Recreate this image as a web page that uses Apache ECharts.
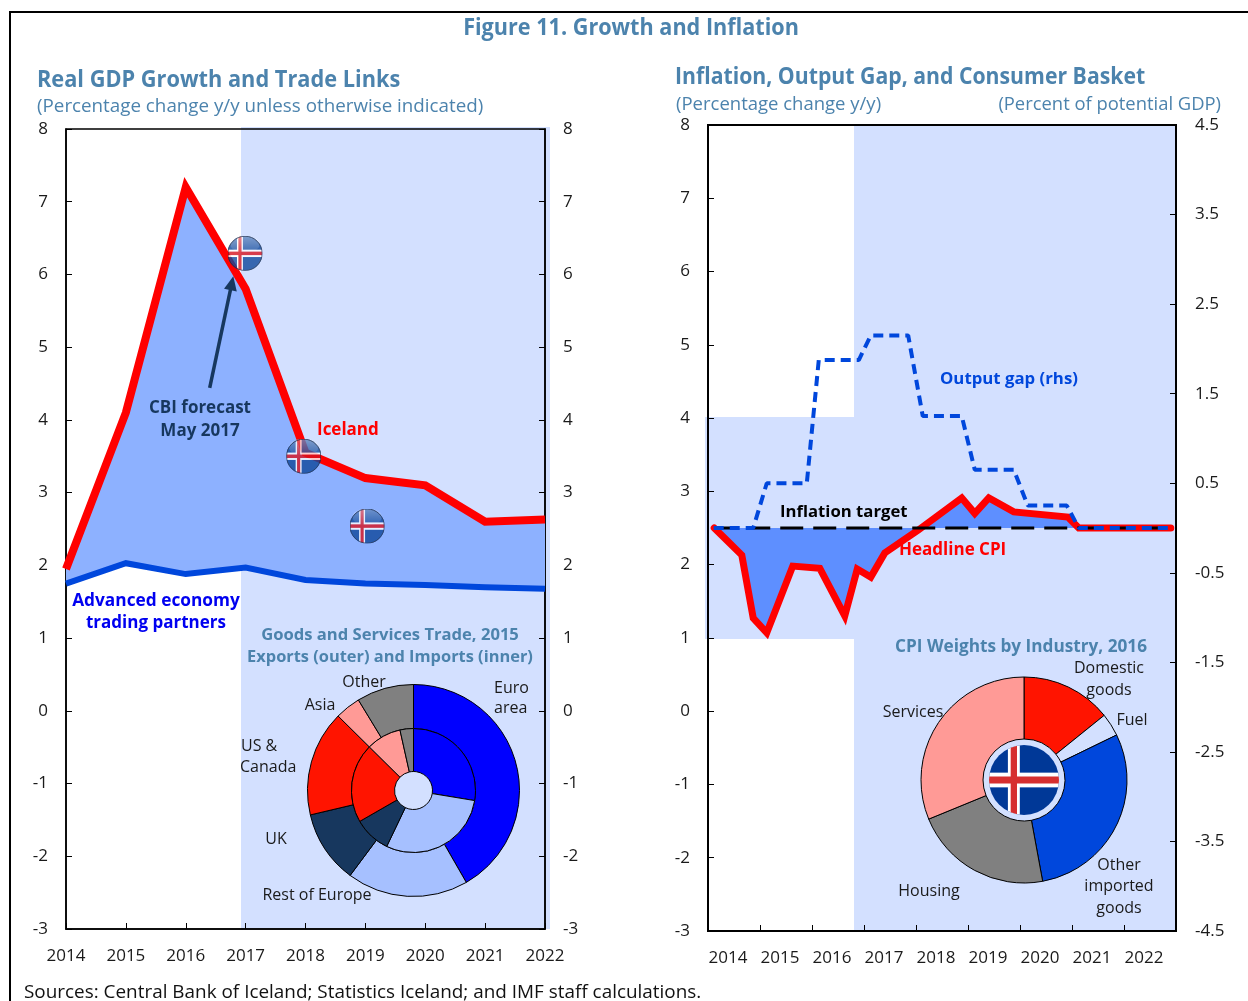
<!DOCTYPE html>
<html>
<head>
<meta charset="utf-8">
<title>Figure 11. Growth and Inflation</title>
<script src="https://cdn.jsdelivr.net/npm/echarts@6/dist/echarts.min.js"></script>
<style>
  html, body { margin: 0; padding: 0; background: #fff; overflow: hidden; }
  #main { width: 1248px; height: 1001px; }
</style>
</head>
<body>
<div id="main"></div>
<script>
// left panel: real GDP growth
const gdpYears = [2014, 2015, 2016, 2017, 2018, 2019, 2020, 2021, 2022]
const iceland = [1.95, 4.1, 7.2, 5.8, 3.55, 3.2, 3.1, 2.6, 2.63]
const partners = [1.75, 2.03, 1.88, 1.97, 1.8, 1.75, 1.73, 1.7, 1.68]
const flagSpots = [[2016.99, 6.29], [2017.97, 3.5], [2019.03, 2.54]]
const forecastArrow = [[2016.4, 4.44], [2016.77, 5.88]]

// left panel: trade shares
const tradeNames = ['Euro area', 'Rest of Europe', 'UK', 'US & Canada', 'Asia', 'Other']
const exportsShare = [41.7, 18.5, 11.1, 16.1, 3.9, 8.7]
const importsShare = [27.6, 29.5, 9.6, 20.7, 9.1, 3.5]
const tradeColors = ['#0000ff', '#a6c0ff', '#17375e', '#ff1400', '#ff9a96', '#808080']

// right panel: inflation and output gap
const yearLabels = ['2014', '2015', '2016', '2017', '2018', '2019', '2020', '2021', '2022']
const cpiTimes = [2014.12, 2014.38, 2014.65, 2014.87, 2015.13, 2015.63, 2016.15, 2016.63, 2016.87, 2017.13, 2017.4, 2018.04, 2018.88, 2019.13, 2019.4, 2019.88, 2020.92, 2021.13, 2022.9]
const cpiValues = [2.5, 2.32, 2.13, 1.27, 1.07, 1.98, 1.95, 1.3, 1.94, 1.83, 2.16, 2.47, 2.91, 2.7, 2.91, 2.72, 2.65, 2.5, 2.5]
const targetValue = 2.5
const targetTimes = [2014.12, 2022.9]
const gapTimes = [2014.11, 2014.87, 2015.13, 2015.9, 2016.13, 2016.9, 2017.13, 2017.85, 2018.13, 2018.88, 2019.13, 2019.88, 2020.15, 2020.9, 2021.13, 2022.9]
const gapValues = [0, 0, 0.5, 0.5, 1.875, 1.875, 2.15, 2.15, 1.25, 1.25, 0.65, 0.65, 0.25, 0.25, 0, 0]
const rhsTicks = [-4.5, -3.5, -2.5, -1.5, -0.5, 0.5, 1.5, 2.5, 3.5, 4.5]

// right panel: CPI weights
const cpiNames = ['Domestic goods', 'Fuel', 'Other imported goods', 'Housing', 'Services']
const cpiWeights = [14.2, 3.6, 29.3, 21.7, 31.2]
const cpiColors = ['#ff1400', '#d3e0ff', '#0047dc', '#808080', '#ff9a96']

const FONT = '"Open Sans", "Noto Sans", sans-serif'
const SHADE = '#d3e0ff'
const STEEL = '#4c83ad'

function flagSvg(glossy) {
  let gloss = ''
  if (glossy) {
    gloss = '<defs><linearGradient id="g" x1="0" y1="0" x2="0" y2="1">' +
      '<stop offset="0" stop-color="#fff" stop-opacity=".38"/><stop offset="1" stop-color="#fff" stop-opacity=".04"/>' +
      '</linearGradient></defs><ellipse cx="50" cy="24" rx="42" ry="24" fill="url(#g)"/>' +
      '<circle cx="50" cy="50" r="49" fill="none" stroke="#14233f" stroke-width="2.5"/>'
  }
  const svg = '<svg xmlns="http://www.w3.org/2000/svg" width="200" height="200" viewBox="0 0 100 100">' +
    '<clipPath id="c"><circle cx="50" cy="50" r="50"/></clipPath><g clip-path="url(#c)">' +
    '<rect width="100" height="100" fill="' + (glossy ? '#0f489c' : '#003897') + '"/>' +
    '<rect x="27" width="17" height="100" fill="#fff"/><rect y="39.5" width="100" height="21" fill="#fff"/>' +
    '<rect x="31" width="9" height="100" fill="' + (glossy ? '#d8121f' : '#d62f2f') + '"/>' +
    '<rect y="45" width="100" height="10" fill="' + (glossy ? '#d8121f' : '#d62f2f') + '"/>' +
    '</g>' + gloss + '</svg>'
  return 'data:image/svg+xml;charset=utf-8,' + encodeURIComponent(svg)
}

function txt(text, x, y, o) {
  o = o || {}
  return {
    type: 'text', z: 50, silent: true, x: x, y: y + 1, scaleX: o.sx || 1,
    style: {
      text: text, fill: o.color || '#1a1a1a', align: o.align || 'center', verticalAlign: 'middle',
      font: (o.bold ? 'bold ' : '') + (o.size || 16) + 'px ' + FONT
    }
  }
}

function shadeRect(x, y, w, h, fill) {
  return { type: 'rect', z: -10, silent: true, shape: { x: x, y: y, width: w, height: h }, style: { fill: fill || SHADE } }
}

function zip(xs, ys) {
  return xs.map((x, i) => [x, ys[i]])
}

// fill between the two growth lines
function renderGrowthGap(params, api) {
  if (params.dataIndex !== 0) {
    return
  }
  const upper = gdpYears.map((y, i) => api.coord([y, iceland[i]]))
  const lower = gdpYears.map((y, i) => api.coord([y, partners[i]])).reverse()
  return { type: 'polygon', shape: { points: upper.concat(lower) }, style: { fill: '#8db1ff' } }
}

const plainValueAxis = (grid, pos) => ({
  type: 'value', gridIndex: grid, position: pos, min: -3, max: 8, interval: 1,
  splitLine: { show: false },
  axisLine: { show: true, onZero: false, lineStyle: { color: '#000', width: grid ? 2 : 1.5 } },
  axisTick: { show: true, inside: true, length: 6, lineStyle: { color: '#000', width: 1 } },
  axisLabel: { color: '#1a1a1a', fontFamily: FONT, fontSize: 17, margin: 18, padding: [4, 0, 0, 0] }
})

const graphics = [
  // frame and shaded blocks
  shadeRect(241, 127, 309, 802),
  shadeRect(854, 125, 321, 806),
  shadeRect(705, 417, 149, 222),
  { type: 'line', z: 60, silent: true, shape: { x1: 9, y1: 12, x2: 1248, y2: 12 }, style: { stroke: '#000', lineWidth: 2 } },
  { type: 'line', z: 60, silent: true, shape: { x1: 10, y1: 11, x2: 10, y2: 1001 }, style: { stroke: '#000', lineWidth: 2 } },

  txt('Figure 11. Growth and Inflation', 631, 27, { bold: true, size: 23, sx: 0.94, color: STEEL }),
  txt('Real GDP Growth and Trade Links', 37, 79, { bold: true, size: 23, sx: 0.946, color: STEEL, align: 'left' }),
  txt('(Percentage change y/y unless otherwise indicated)', 37, 106, { size: 18.8, color: STEEL, align: 'left' }),
  txt('Inflation, Output Gap, and Consumer Basket', 675, 76, { bold: true, size: 23, sx: 0.923, color: STEEL, align: 'left' }),
  txt('(Percentage change y/y)', 676, 104, { size: 18.5, color: STEEL, align: 'left' }),
  txt('(Percent of potential GDP)', 1221, 104, { size: 18.4, color: STEEL, align: 'right' }),

  txt('CBI forecast', 200, 407, { bold: true, size: 17, color: '#17375e' }),
  txt('May 2017', 200, 430, { bold: true, size: 17, color: '#17375e' }),
  txt('Iceland', 317, 429, { bold: true, size: 17, color: '#ff0000', align: 'left' }),
  txt('Advanced economy', 156, 600, { bold: true, size: 17.3, color: '#0000f0' }),
  txt('trading partners', 156, 622, { bold: true, size: 17, color: '#0000f0' }),
  txt('Goods and Services Trade, 2015', 390, 634, { bold: true, size: 16.6, color: STEEL }),
  txt('Exports (outer) and Imports (inner)', 390, 656, { bold: true, size: 16.4, color: STEEL }),
  txt('Euro', 494, 687, { align: 'left' }),
  txt('area', 494, 707, { align: 'left' }),
  txt('Other', 364, 681),
  txt('Asia', 320, 704),
  txt('US &', 241, 745, { align: 'left' }),
  txt('Canada', 240, 766, { align: 'left' }),
  txt('UK', 276, 838),
  txt('Rest of Europe', 317, 894),

  txt('Output gap (rhs)', 940, 378, { bold: true, size: 16.8, color: '#0047dc', align: 'left' }),
  txt('Inflation target', 780, 511, { bold: true, size: 16.7, color: '#000', align: 'left' }),
  txt('Headline CPI', 899, 549, { bold: true, size: 17, color: '#ff0000', align: 'left' }),
  txt('CPI Weights by Industry, 2016', 1021, 646, { bold: true, size: 17.2, color: STEEL }),
  txt('Domestic', 1109, 667),
  txt('goods', 1109, 689),
  txt('Fuel', 1132, 719),
  txt('Services', 913, 711),
  txt('Housing', 929, 890),
  txt('Other', 1119, 864),
  txt('imported', 1119, 885),
  txt('goods', 1119, 907),
  txt('Sources: Central Bank of Iceland; Statistics Iceland; and IMF staff calculations.', 24, 992, { size: 18, sx: 1.05, color: '#111', align: 'left' }),

  // flag in the middle of the CPI pie
  { type: 'image', z: 40, silent: true, style: { image: flagSvg(false), x: 989, y: 745, width: 70, height: 70 } }
]

const option = {
  animation: false,
  backgroundColor: '#fff',
  tooltip: { show: false },
  legend: { show: false },
  graphic: graphics,
  grid: [
    { left: 66, top: 129, width: 479, height: 800, show: true, borderColor: '#000', borderWidth: 1.5, backgroundColor: 'transparent' },
    { left: 708, top: 125, width: 468, height: 806, show: true, borderColor: '#000', borderWidth: 2, backgroundColor: 'transparent' }
  ],
  xAxis: [
    {
      type: 'value', gridIndex: 0, min: 2014, max: 2022, interval: 1,
      splitLine: { show: false },
      axisLine: { show: true, onZero: false, lineStyle: { color: '#000', width: 1.5 } },
      axisTick: { show: true, inside: true, length: 6, lineStyle: { color: '#000', width: 1 } },
      axisLabel: { color: '#1a1a1a', fontFamily: FONT, fontSize: 17, margin: 19, formatter: (v) => String(v) }
    },
    {
      type: 'category', gridIndex: 1, data: yearLabels, boundaryGap: true,
      axisLine: { show: true, onZero: false, lineStyle: { color: '#000', width: 2 } },
      axisTick: { show: true, inside: true, length: 6, alignWithLabel: false, lineStyle: { color: '#000', width: 1 } },
      axisLabel: { color: '#1a1a1a', fontFamily: FONT, fontSize: 17, margin: 19, interval: 0, padding: [0, 12, 0, 0] }
    },
    // hidden time scale for the right panel lines
    { type: 'value', gridIndex: 1, min: 2014, max: 2023, show: false }
  ],
  yAxis: [
    plainValueAxis(0, 'left'),
    plainValueAxis(0, 'right'),
    plainValueAxis(1, 'left'),
    {
      type: 'value', gridIndex: 1, position: 'right', min: -4.5, max: 4.5,
      splitLine: { show: false },
      axisLine: { show: true, onZero: false, lineStyle: { color: '#000', width: 2 } },
      axisTick: { show: true, inside: true, length: 6, customValues: rhsTicks, lineStyle: { color: '#000', width: 1 } },
      axisLabel: { color: '#1a1a1a', fontFamily: FONT, fontSize: 17, margin: 19, padding: [4, 0, 0, 0], customValues: rhsTicks }
    }
  ],
  series: [
    {
      name: 'gap', type: 'custom', xAxisIndex: 0, yAxisIndex: 0, z: 2, silent: true,
      renderItem: renderGrowthGap, data: gdpYears
    },
    {
      name: 'Advanced economy trading partners', type: 'line', xAxisIndex: 0, yAxisIndex: 0, z: 4,
      data: zip(gdpYears, partners), showSymbol: false,
      lineStyle: { color: '#0047dc', width: 6, join: 'miter' }
    },
    {
      name: 'Iceland', type: 'line', xAxisIndex: 0, yAxisIndex: 0, z: 5,
      data: zip(gdpYears, iceland), showSymbol: false,
      lineStyle: { color: '#ff0000', width: 8, join: 'miter' },
      markLine: {
        silent: true, z: 6, animation: false, symbol: ['none', 'triangle'], symbolSize: [13, 14], label: { show: false },
        lineStyle: { color: '#17375e', width: 3.5, type: 'solid' },
        data: [[{ coord: forecastArrow[0] }, { coord: forecastArrow[1] }]]
      }
    },
    {
      name: 'CBI forecast flags', type: 'scatter', xAxisIndex: 0, yAxisIndex: 0, z: 7,
      data: flagSpots, symbol: 'image://' + flagSvg(true), symbolSize: 35, silent: true
    },
    {
      name: 'Exports', type: 'pie', center: [413.5, 790.5], radius: [62, 106], startAngle: 90, z: 3, silent: true,
      label: { show: false }, labelLine: { show: false },
      itemStyle: { borderColor: '#000', borderWidth: 1 },
      data: tradeNames.map((n, i) => ({ name: n, value: exportsShare[i], itemStyle: { color: tradeColors[i] } }))
    },
    {
      name: 'Imports', type: 'pie', center: [413.5, 790.5], radius: [19, 62], startAngle: 90, z: 3, silent: true,
      label: { show: false }, labelLine: { show: false },
      itemStyle: { borderColor: '#000', borderWidth: 1 },
      data: tradeNames.map((n, i) => ({ name: n, value: importsShare[i], itemStyle: { color: tradeColors[i] } }))
    },
    {
      name: 'Headline CPI', type: 'line', xAxisIndex: 2, yAxisIndex: 2, z: 4,
      data: zip(cpiTimes, cpiValues), showSymbol: false,
      lineStyle: { color: '#ff0000', width: 7, join: 'miter', cap: 'round' },
      areaStyle: { color: '#5e8fff', opacity: 1, origin: targetValue }
    },
    {
      name: 'Inflation target', type: 'line', xAxisIndex: 2, yAxisIndex: 2, z: 5,
      data: targetTimes.map((t) => [t, targetValue]), showSymbol: false,
      lineStyle: { color: '#000', width: 3, type: [23, 10] }
    },
    {
      name: 'Output gap', type: 'line', xAxisIndex: 2, yAxisIndex: 3, z: 6,
      data: zip(gapTimes, gapValues), showSymbol: false,
      lineStyle: { color: '#0047dc', width: 4, type: [10, 6] }
    },
    {
      name: 'CPI weights', type: 'pie', center: [1024, 780], radius: [41, 103], startAngle: 90, z: 3, silent: true,
      label: { show: false }, labelLine: { show: false },
      itemStyle: { borderColor: '#000', borderWidth: 1 },
      data: cpiNames.map((n, i) => ({ name: n, value: cpiWeights[i], itemStyle: { color: cpiColors[i] } }))
    }
  ]
}

const chart = echarts.init(document.getElementById('main'))
chart.setOption(option)
</script>
</body>
</html>
